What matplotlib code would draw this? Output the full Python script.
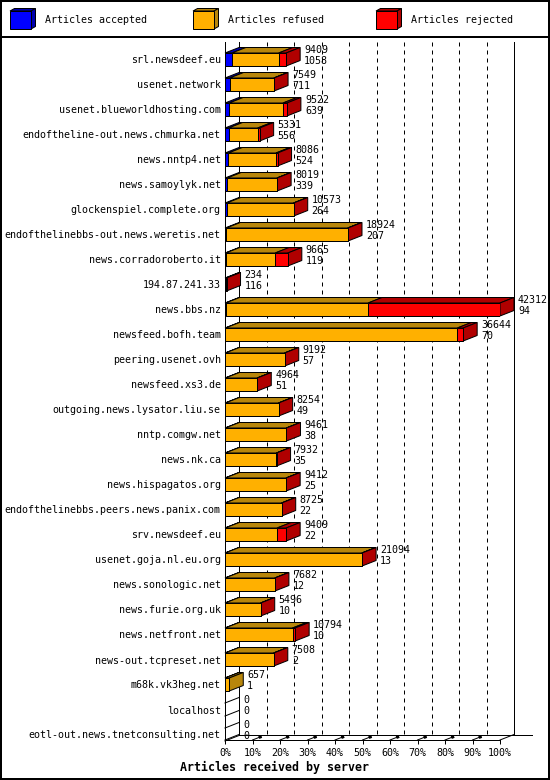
import matplotlib
matplotlib.use("Agg")
import matplotlib.pyplot as plt
from matplotlib.patches import Polygon, Rectangle
import numpy as np

servers = [
    "srl.newsdeef.eu", "usenet.network", "usenet.blueworldhosting.com",
    "endoftheline-out.news.chmurka.net", "news.nntp4.net", "news.samoylyk.net",
    "glockenspiel.complete.org", "endofthelinebbs-out.news.weretis.net",
    "news.corradoroberto.it", "194.87.241.33", "news.bbs.nz",
    "newsfeed.bofh.team", "peering.usenet.ovh", "newsfeed.xs3.de",
    "outgoing.news.lysator.liu.se", "nntp.comgw.net", "news.nk.ca",
    "news.hispagatos.org", "endofthelinebbs.peers.news.panix.com",
    "srv.newsdeef.eu", "usenet.goja.nl.eu.org", "news.sonologic.net",
    "news.furie.org.uk", "news.netfront.net", "news-out.tcpreset.net",
    "m68k.vk3heg.net", "localhost", "eotl-out.news.tnetconsulting.net",
]
offered = np.array([9409, 7549, 9522, 5331, 8086, 8019, 10573, 18924, 9665, 234,
                    42312, 36644, 9192, 4964, 8254, 9461, 7932, 9412, 8725, 9409,
                    21094, 7682, 5496, 10794, 7508, 657, 0, 0])
accepted = np.array([1058, 711, 639, 556, 524, 339, 264, 207, 119, 116,
                     94, 70, 57, 51, 49, 38, 35, 25, 22, 22,
                     13, 12, 10, 10, 2, 1, 0, 0])
rejected = np.array([1150, 30, 600, 300, 250, 20, 30, 40, 1950, 118,
                     20300, 900, 20, 15, 20, 25, 20, 20, 20, 1400,
                     40, 20, 15, 400, 20, 0, 0, 0])
refused = offered - accepted - rejected

series = ["Articles accepted", "Articles refused", "Articles rejected"]
colors = ["#0000ff", "#ffb000", "#ff0000"]
shades = ["#0000b0", "#b8860b", "#b00000"]
pct_ticks = np.arange(0, 101, 10)

W, H = 550, 780
FONT = "DejaVu Sans Mono"
FS = 7.2
LW = 0.72

fig = plt.figure(figsize=(W / 100, H / 100), dpi=100)

# background axes in pixel units: frame and legend
bg = fig.add_axes([0, 0, 1, 1])
bg.set_xlim(0, W)
bg.set_ylim(H, 0)
bg.axis("off")
bg.add_patch(Rectangle((1, 1), W - 2, H - 2, fill=False, lw=1.44, ec="black"))
bg.plot([0, W], [36.5, 36.5], color="black", lw=1.44)
for x0, name, c, s in zip([10, 193, 376], series, colors, shades):
    fx, fy, fw, fh, ddx, ddy = x0, 11, 21, 18, 4.5, 2.5
    bg.add_patch(Polygon([(fx, fy), (fx + fw, fy), (fx + fw + ddx, fy - ddy), (fx + ddx, fy - ddy)],
                         fc=s, ec="black", lw=LW))
    bg.add_patch(Polygon([(fx + fw, fy), (fx + fw, fy + fh), (fx + fw + ddx, fy + fh - ddy),
                          (fx + fw + ddx, fy - ddy)], fc=s, ec="black", lw=LW))
    bg.add_patch(Rectangle((fx, fy), fw, fh, fc=c, ec="black", lw=LW))
    bg.text(x0 + 35, 20, name, fontsize=FS, family=FONT, va="center", ha="left")

# main chart axes: x in percent of the largest server, y in rows
top_px, bot_px, left_px, right_px = 42, 740, 225, 500
ax = fig.add_axes([left_px / W, 1 - bot_px / H, (right_px - left_px) / W, (bot_px - top_px) / H])
y_top = (top_px - 59.5) / 25
y_bot = (bot_px - 59.5) / 25
ax.set_xlim(0, 100)
ax.set_ylim(y_bot, y_top)
ax.patch.set_visible(False)
for sp in ax.spines.values():
    sp.set_visible(False)

px = 100 / (right_px - left_px)
py = 1 / 25
dx, dy, hh = 14 * px, 5.5 * py, 6.5 * py

# walls, grid and floor
yf = y_bot - dy
for v in pct_ticks[1:-1]:
    ax.plot([v + dx, v + dx], [y_top, yf], color="black", lw=LW,
            linestyle=(0, (4, 4)), clip_on=False, zorder=1)
    ax.plot([v, v + dx * 0.6], [y_bot, y_bot - dy * 0.6], color="black", lw=LW, clip_on=False, zorder=1)
    ax.plot([v + dx * 0.45, v + dx * 0.65], [y_bot - dy * 0.45, y_bot - dy * 0.65],
            color="black", lw=2.2, clip_on=False, zorder=1, solid_capstyle="butt")
for v in [dx, 100 + dx]:
    ax.plot([v, v], [y_top, yf], color="black", lw=LW, clip_on=False, zorder=1)
ax.plot([0, 0], [y_top, y_bot], color="black", lw=LW, clip_on=False, zorder=1)
ax.plot([0, 100], [y_bot, y_bot], color="black", lw=LW, clip_on=False, zorder=1)
ax.plot([0, dx], [y_bot, yf], color="black", lw=LW, clip_on=False, zorder=1)
ax.plot([100, 100 + dx], [y_bot, yf], color="black", lw=LW, clip_on=False, zorder=1)
ax.plot([dx, 100 + dx + 18 * px], [yf, yf], color="black", lw=LW, clip_on=False, zorder=1)

# 3d bars
vmax = offered.max()
parts = np.vstack([accepted, refused, rejected]) / vmax * 100
rows = np.arange(len(servers))
for i in rows:
    start = 0.0
    yt, yb = i - hh, i + hh
    last = None
    for k in range(3):
        w = parts[k, i]
        if w <= 0:
            continue
        ax.add_patch(Polygon([(start, yt), (start + w, yt), (start + w + dx, yt - dy), (start + dx, yt - dy)],
                             fc=shades[k], ec="black", lw=LW, zorder=3, clip_on=False))
        start += w
        last = k
    end = start
    if last is not None:
        ax.add_patch(Polygon([(end, yt), (end, yb), (end + dx, yb - dy), (end + dx, yt - dy)],
                             fc=shades[last], ec="black", lw=LW, zorder=3, clip_on=False))
    else:
        ax.plot([0, dx], [yt, yt - dy], color="black", lw=LW, zorder=3, clip_on=False)
        ax.plot([0, dx], [yb, yb - dy], color="black", lw=LW, zorder=3, clip_on=False)
    ax.text(end + dx + 4 * px, i - 9.5 * py, str(offered[i]), fontsize=FS, family=FONT,
            va="center", ha="left", zorder=4)
    ax.text(end + dx + 4 * px, i + 1.5 * py, str(accepted[i]), fontsize=FS, family=FONT,
            va="center", ha="left", zorder=4)

left = np.zeros(len(servers))
for k in range(3):
    ax.barh(rows, parts[k], left=left, height=2 * hh, color=colors[k],
            edgecolor="black", linewidth=LW, zorder=3.5)
    left += parts[k]

ax.set_yticks(rows)
ax.set_yticklabels(servers, fontsize=FS, family=FONT)
ax.tick_params(axis="y", length=0, pad=3)
ax.set_xticks(pct_ticks)
ax.set_xticklabels([f"{v}%" for v in pct_ticks], fontsize=FS, family=FONT)
ax.tick_params(axis="x", length=3, width=LW, direction="out", pad=2.5)

fig.text(0.5, 1 - 767 / H, "Articles received by server", fontsize=8.4, family=FONT,
         fontweight="bold", ha="center", va="center")

fig.savefig("out.png", dpi=100)
